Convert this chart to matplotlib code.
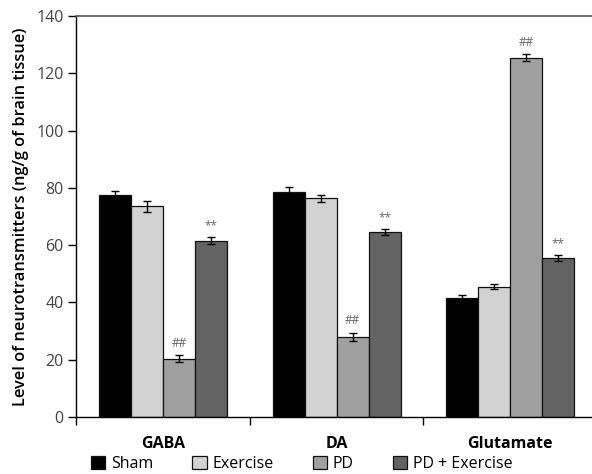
import numpy as np
import matplotlib as mpl
import matplotlib.pyplot as plt
from matplotlib.patches import Patch

mpl.rcParams['font.family'] = ['Open Sans', 'DejaVu Sans']

# data
categories = ['GABA', 'DA', 'Glutamate']
groups = ['Sham', 'Exercise', 'PD', 'PD + Exercise']
sham = [77.5, 78.5, 41.5]
exercise = [73.5, 76.3, 45.5]
pd_ = [20.3, 28.0, 125.5]
pd_ex = [61.5, 64.5, 55.5]
sham_err = [1.3, 1.8, 1.2]
exercise_err = [1.8, 1.2, 0.9]
pd_err = [1.2, 1.4, 1.2]
pd_ex_err = [1.2, 1.0, 0.9]
pd_marks = ['##', '##', '##']
pd_ex_marks = ['**', '**', '**']

colors = ['#000000', '#d2d2d2', '#a0a0a0', '#636363']
series = [sham, exercise, pd_, pd_ex]
errors = [sham_err, exercise_err, pd_err, pd_ex_err]

fig = plt.figure(figsize=(5.92, 4.74), dpi=100)
ax = fig.add_axes([76/592, 57/474, 1 - 76/592, 401/474])

x = np.arange(len(categories))
w = 0.184
for i, (vals, errs) in enumerate(zip(series, errors)):
    pos = x + (i - 1.5) * w
    ax.bar(pos, vals, w, color=colors[i], edgecolor='#111111', linewidth=0.9, zorder=2)
    ax.errorbar(pos, vals, yerr=errs, fmt='none', ecolor='black', elinewidth=1.0,
                capsize=3, capthick=1.0, zorder=3)

# significance marks
for j in range(len(categories)):
    for i, marks in ((2, pd_marks), (3, pd_ex_marks)):
        top = series[i][j] + errors[i][j]
        ax.annotate(marks[j], (x[j] + (i - 1.5) * w, top), xytext=(0, 4),
                    textcoords='offset points', ha='center', va='bottom',
                    fontsize=8.5, color='#666666')

ax.set_ylim(0, 140)
ax.set_xlim(-0.5, 2.47)
ax.set_yticks(range(0, 141, 20))
ax.set_xticks([-0.5, 0.5, 1.5])
ax.set_xticklabels([])
ax.tick_params(axis='y', direction='out', length=6, width=1, labelsize=11.5,
               labelcolor='#444444', pad=3)
ax.tick_params(axis='x', direction='out', length=6, width=1)
for k, c in enumerate(categories):
    ax.text(x[k], -6.5, c, ha='center', va='top', fontsize=11.5, fontweight='bold',
            transform=ax.transData, clip_on=False)

ax.spines['right'].set_visible(False)
ax.spines['top'].set_color('#555555')
ax.spines['top'].set_linewidth(1.2)
ax.spines['left'].set_linewidth(1.0)
ax.spines['bottom'].set_linewidth(1.0)

ax.set_ylabel('Level of neurotransmitters (ng/g of brain tissue)', fontsize=11.8,
              fontweight='semibold', labelpad=5)

handles = [Patch(facecolor=c, edgecolor='#111111', linewidth=0.9) for c in colors]
fig.legend(handles, groups, loc='center left', bbox_to_anchor=(91/592, 1 - 464/474),
           ncol=4, frameon=False, fontsize=11.5, handlelength=0.9, handleheight=0.9,
           handletextpad=0.35, columnspacing=2.45, borderpad=0, borderaxespad=0)

fig.savefig('out.png', dpi=100)
